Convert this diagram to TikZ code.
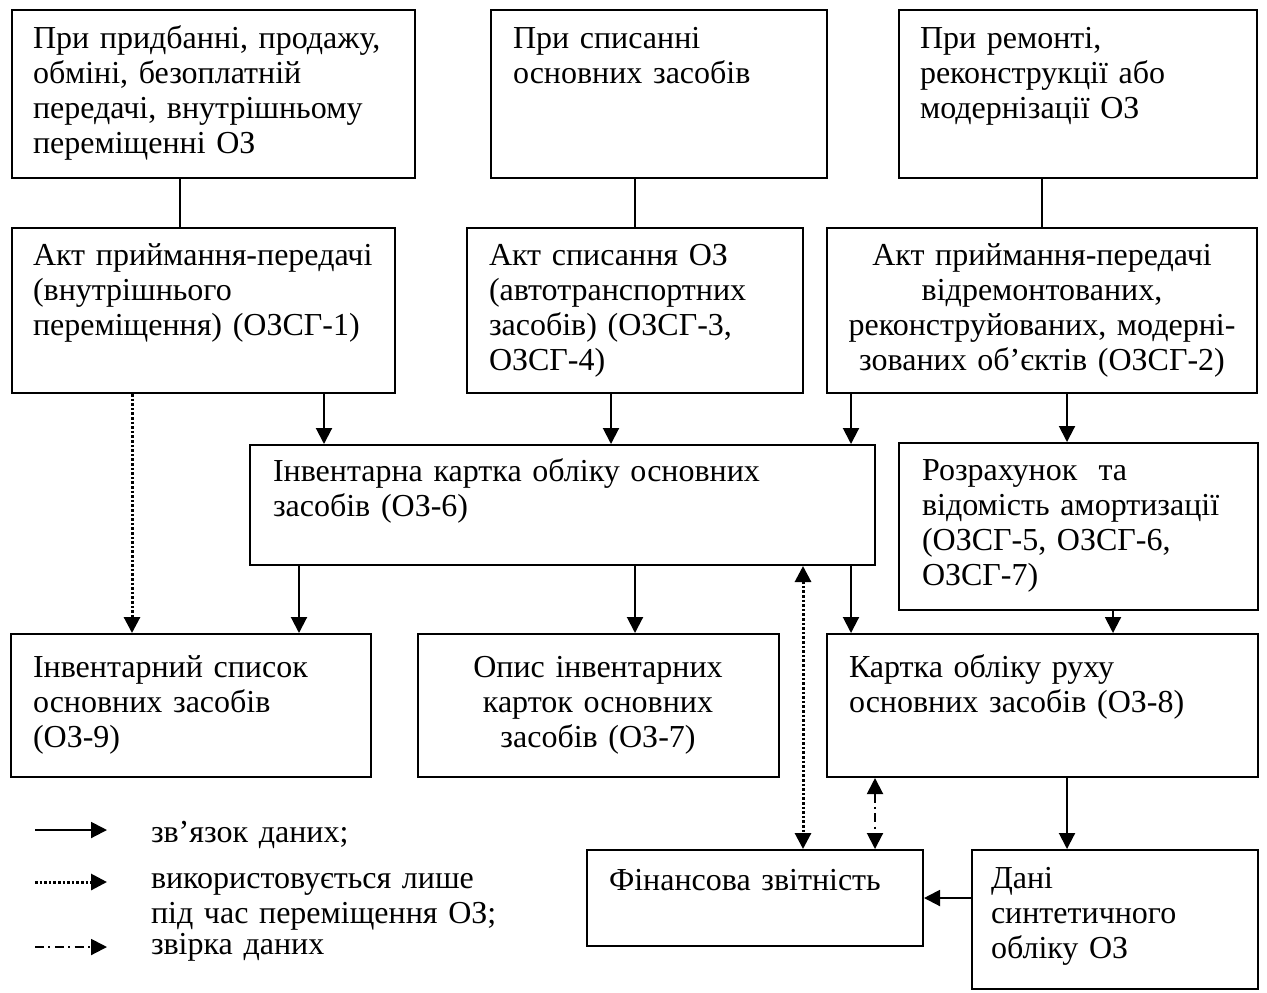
\documentclass[tikz,border=0pt]{standalone}
\usepackage{fontspec}
\setmainfont{Liberation Serif}
\usetikzlibrary{arrows.meta,fit}

\begin{document}
\begin{tikzpicture}[x=0.5pt, y=-0.5pt, line width=1pt,
    >={Triangle[length=8pt,width=8pt]},
    font=\fontsize{16}{17.5}\selectfont,
    box/.style={draw, inner sep=0pt},
    txt/.style={anchor=base west, align=left, text width=300pt, inner sep=0pt},
    ctxt/.style={anchor=base, align=center, text width=#1, inner sep=0pt},
    moved/.style={line width=1.5pt, dash pattern=on 1.3pt off 1pt},
    check/.style={dash pattern=on 4.5pt off 2.2pt on 1pt off 2.2pt}]

    \useasboundingbox (0,0) rectangle (1267,992);

    % Верхній ряд
    \node[box, fit={(12,10) (415,178)}] (buy) {};
    \node[txt] (buyT) at (32,48) {При придбанні, продажу,\\обміні, безоплатній\\передачі, внутрішньому\\переміщенні ОЗ};
    \node[box, fit={(491,10) (827,178)}] (writeoff) {};
    \node[txt] (writeoffT) at (512,48) {При списанні\\основних засобів};
    \node[box, fit={(899,10) (1257,178)}] (repair) {};
    \node[txt] (repairT) at (919,48) {При ремонті,\\реконструкції або\\модернізації ОЗ};

    % Акти
    \node[box, fit={(12,228) (395,393)}] (actOne) {};
    \node[txt] (actOneT) at (32,265) {Акт приймання-передачі\\(внутрішнього\\переміщення) (ОЗСГ-1)};
    \node[box, fit={(467,228) (803,393)}] (actThree) {};
    \node[txt] (actThreeT) at (488,265) {Акт списання ОЗ\\(автотранспортних\\засобів) (ОЗСГ-3,\\ОЗСГ-4)};
    \node[box, fit={(827,228) (1257,393)}] (actTwo) {};
    \node[ctxt=214pt] (actTwoT) at (1042,265) {Акт приймання-передачі\\відремонтованих,\\реконструйованих, модерні-\\зованих об’єктів (ОЗСГ-2)};

    % Картка і амортизація
    \node[box, fit={(250,445) (875,565)}] (card) {};
    \node[txt] (cardT) at (272,481) {Інвентарна картка обліку основних\\засобів (ОЗ-6)};
    \node[box, fit={(899,443) (1258,610)}] (amort) {};
    \node[txt] (amortT) at (921,480) {Розрахунок\ \ та\\відомість амортизації\\(ОЗСГ-5, ОЗСГ-6,\\ОЗСГ-7)};

    % Облікові регістри
    \node[box, fit={(11,634) (371,777)}] (list) {};
    \node[txt] (listT) at (32,677) {Інвентарний список\\основних засобів\\(ОЗ-9)};
    \node[box, fit={(418,634) (779,777)}] (cardlist) {};
    \node[ctxt=175pt] (cardlistT) at (598,677) {Опис інвентарних\\карток основних\\засобів (ОЗ-7)};
    \node[box, fit={(827,634) (1258,777)}] (move) {};
    \node[txt] (moveT) at (848,677) {Картка обліку руху\\основних засобів (ОЗ-8)};

    % Звітність
    \node[box, fit={(587,850) (923,946)}] (report) {};
    \node[txt] (reportT) at (608,890) {Фінансова звітність};
    \node[box, fit={(972,850) (1258,989)}] (synth) {};
    \node[txt] (synthT) at (990,888) {Дані\\синтетичного\\обліку ОЗ};

    % Лінії між рядами
    \draw (buy.south -| 180,0) -- (actOne.north -| 180,0);
    \draw (writeoff.south -| 635,0) -- (actThree.north -| 635,0);
    \draw (repair.south -| 1042,0) -- (actTwo.north -| 1042,0);

    \draw[->] (actOne.south -| 324,0) -- (card.north -| 324,0);
    \draw[->] (actThree.south -| 611,0) -- (card.north -| 611,0);
    \draw[->] (actTwo.south -| 851,0) -- (card.north -| 851,0);
    \draw[->] (actTwo.south -| 1067,0) -- (amort.north -| 1067,0);

    \draw[->] (card.south -| 299,0) -- (list.north -| 299,0);
    \draw[->] (card.south -| 635,0) -- (cardlist.north -| 635,0);
    \draw[->] (card.south -| 851,0) -- (move.north -| 851,0);
    \draw[->] (amort.south -| 1113,0) -- (move.north -| 1113,0);
    \draw[->] (move.south -| 1067,0) -- (synth.north -| 1067,0);
    \draw[->] (synth.west |- 0,898) -- (report.east |- 0,898);

    % Пунктирні стрілки
    \draw[->, moved] (actOne.south -| 132,0) -- (list.north -| 132,0);
    \draw[<->, moved] (card.south -| 803,0) -- (report.north -| 803,0);
    \draw[<->, check] (move.south -| 875,0) -- (report.north -| 875,0);

    % Легенда
    \coordinate (solidA) at (35,830);   \coordinate (solidB) at (107,830);
    \coordinate (dotA) at (35,882);     \coordinate (dotB) at (107,882);
    \coordinate (dashA) at (35,947);    \coordinate (dashB) at (107,947);
    \draw[->] (solidA) -- (solidB);
    \draw[->, moved] (dotA) -- (dotB);
    \draw[->, check] (dashA) -- (dashB);
    \node[txt] (legSolid) at (150,842) {зв’язок даних;};
    \node[txt] (legDot) at (150,888) {використовується лише\\під час переміщення ОЗ;};
    \node[txt] (legDash) at (150,954) {звірка даних};

\end{tikzpicture}
\end{document}
